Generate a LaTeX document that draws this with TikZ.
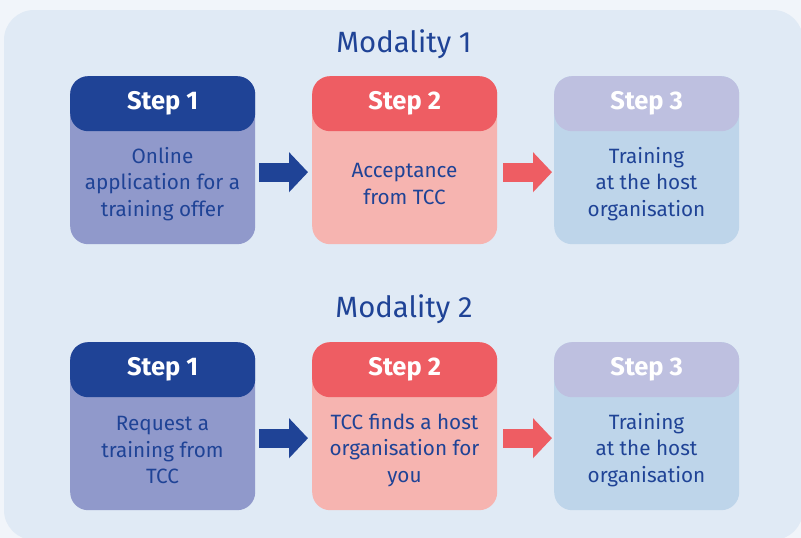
\documentclass[tikz,border=0pt]{standalone}
\usepackage{fontspec}
\setmainfont{Fira Sans}
\usetikzlibrary{arrows.meta}
\definecolor{outerbg}{HTML}{F1F5FA}
\definecolor{panel}{HTML}{E0EAF5}
\definecolor{navy}{HTML}{1F4396}
\definecolor{redh}{HTML}{EE5D63}
\definecolor{redb}{HTML}{F6B4B0}
\definecolor{violb}{HTML}{9099CB}
\definecolor{lavh}{HTML}{BEC0E0}
\definecolor{blueb}{HTML}{BED5EA}
\begin{document}
\begin{tikzpicture}[x=1pt,y=-1pt,
  bodybox/.style={rounded corners=18pt, minimum width=185pt, minimum height=168pt, anchor=north west, inner sep=0pt},
  headbox/.style={rounded corners=18pt, minimum width=185pt, minimum height=55pt, anchor=north west, inner sep=0pt, text=white, font=\bfseries\fontsize{25.5}{28}\selectfont},
  desc/.style={align=center, text=navy, inner sep=0pt, font=\fontsize{20.7}{26.5}\selectfont},
  title/.style={text=navy, inner sep=0pt, font=\fontsize{29.3}{32}\selectfont},
  bluearrow/.style={navy, line width=19pt, -{Triangle[length=19pt,width=39pt]}},
  redarrow/.style={redh, line width=19pt, -{Triangle[length=19pt,width=39pt]}}
]
\useasboundingbox (0,0) rectangle (801,538);
\fill[outerbg] (0,0) rectangle (801,538);
\fill[panel, rounded corners=30pt] (4,10) rectangle (803,540);

% Modality 1
\node[title] (m1) at (404,44) {Modality 1};
\node[bodybox, fill=violb] (a1) at (70,76) {};
\node[headbox, fill=navy] (a1h) at (70,76) {Step 1};
\node[desc] (a1t) at (162.5,184) {Online\\application for a\\training offer};
\node[bodybox, fill=redb] (b1) at (312,76) {};
\node[headbox, fill=redh] (b1h) at (312,76) {Step 2};
\node[desc] (b1t) at (404.5,184) {Acceptance\\from TCC};
\node[bodybox, fill=blueb] (c1) at (554,76) {};
\node[headbox, fill=lavh] (c1h) at (554,76) {Step 3};
\node[desc] (c1t) at (646.5,184) {Training\\at the host\\organisation};
\draw[bluearrow] ([xshift=4pt,yshift=-12pt]a1.east) -- ([xshift=-4pt,yshift=-12pt]b1.west);
\draw[redarrow] ([xshift=6pt,yshift=-12pt]b1.east) -- ([xshift=-2pt,yshift=-12pt]c1.west);

% Modality 2
\node[title] (m2) at (404,309) {Modality 2};
\node[bodybox, fill=violb] (a2) at (70,342) {};
\node[headbox, fill=navy] (a2h) at (70,342) {Step 1};
\node[desc] (a2t) at (162.5,450) {Request a\\training from\\TCC};
\node[bodybox, fill=redb] (b2) at (312,342) {};
\node[headbox, fill=redh] (b2h) at (312,342) {Step 2};
\node[desc] (b2t) at (404.5,450) {TCC finds a host\\organisation for\\you};
\node[bodybox, fill=blueb] (c2) at (554,342) {};
\node[headbox, fill=lavh] (c2h) at (554,342) {Step 3};
\node[desc] (c2t) at (646.5,450) {Training\\at the host\\organisation};
\draw[bluearrow] ([xshift=4pt,yshift=-12pt]a2.east) -- ([xshift=-4pt,yshift=-12pt]b2.west);
\draw[redarrow] ([xshift=6pt,yshift=-12pt]b2.east) -- ([xshift=-2pt,yshift=-12pt]c2.west);
\end{tikzpicture}
\end{document}
